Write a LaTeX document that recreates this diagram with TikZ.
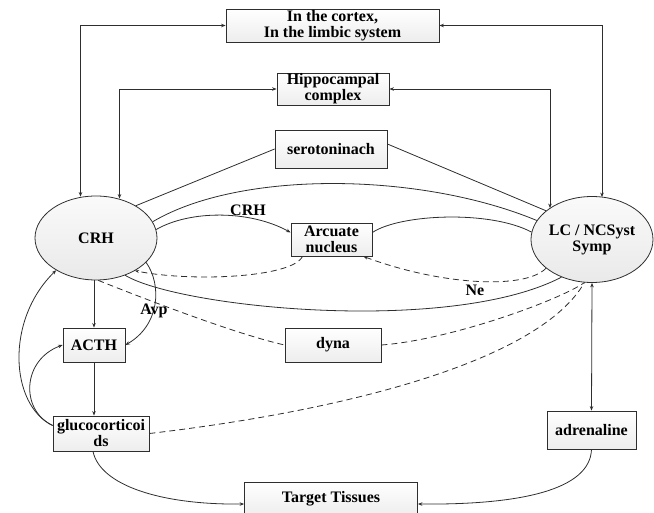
\documentclass[tikz,border=0pt]{standalone}
\usepackage{fontspec}
\setmainfont{Liberation Serif}
\usetikzlibrary{arrows.meta,shapes.geometric}
\definecolor{linec}{HTML}{2E2E2E}
\begin{document}
\begin{tikzpicture}[x=1pt,y=-1pt,
  every node/.style={font=\fontsize{16}{16}\selectfont\bfseries, text=black},
  box/.style={draw=linec, line width=0.8pt, top color=white, bottom color=gray!14, inner sep=0pt, align=center},
  oval/.style={ellipse, draw=linec, line width=0.8pt, top color=gray!4, bottom color=gray!17, inner sep=0pt, align=center},
  conn/.style={draw=linec, line width=0.8pt},
  arr/.style={conn, -{Stealth[length=4.5pt,width=3.5pt]}},
  biarr/.style={conn, {Stealth[length=4.5pt,width=3.5pt]}-{Stealth[length=4.5pt,width=3.5pt]}},
  dsh/.style={conn, dash pattern=on 6pt off 4pt},
  lbl/.style={inner sep=0pt}]
\useasboundingbox (0,0) rectangle (654,513);

% nodes
\node[box, minimum width=213pt, minimum height=33pt] (cortex) at (332.5,25.5) {In the cortex,\\In the limbic system};
\node[box, minimum width=112pt, minimum height=32pt] (hippo) at (333,89) {Hippocampal\\complex};
\node[box, minimum width=112pt, minimum height=38pt] (sero) at (331,149) {serotoninach};
\node[oval, minimum width=122pt, minimum height=84pt] (crh) at (96,238) {CRH};
\node[oval, minimum width=122pt, minimum height=86pt] (lc) at (592,239.5) {LC / NCSyst\\Symp};
\node[box, minimum width=81pt, minimum height=33pt] (arc) at (331.5,239.5) {Arcuate\\nucleus};
\node[box, minimum width=62pt, minimum height=34pt] (acth) at (94,345) {ACTH};
\node[box, minimum width=96pt, minimum height=34pt] (dyna) at (333,345) {dyna};
\node[box, minimum width=96pt, minimum height=35pt] (gluco) at (101,433.5) {glucocorticoi\\ds};
\node[box, minimum width=89pt, minimum height=38pt] (adren) at (591.5,430) {adrenaline};
\node[box, minimum width=173pt, minimum height=34pt] (target) at (331,499) {Target Tissues};

% bracket connectors
\draw[biarr] (cortex.west) -| ([xshift=-15.5pt,yshift=-1pt]crh.north);
\draw[biarr] (hippo.west) -| ([xshift=23.5pt,yshift=-3pt]crh.north);
\draw[biarr] (cortex.east) -| ([xshift=10pt,yshift=-1pt]lc.north);
\draw[biarr] (hippo.east) -| ([xshift=-42pt,yshift=-12pt]lc.north);

% serotonin lines
\draw[conn] (sero.west) -- (crh.39);
\draw[conn] ([yshift=5pt]sero.east) -- (lc.148);

% CRH - LC top curve
\draw[conn] (crh.16) .. controls (240,170) and (420,172) .. (lc.161);
% CRH -> Arcuate
\draw[arr] (crh.8) .. controls (190,210) and (250,210) .. ([yshift=7pt]arc.west);
\node[lbl] (lcrh) at (248,210) {CRH};
% Arcuate - LC
\draw[conn] ([yshift=7pt]arc.east) .. controls (400,214) and (490,210) .. (lc.173);
% Arcuate -> CRH dashed
\draw[dsh, -{Stealth[length=4pt,width=3pt]}] ([xshift=-29pt]arc.south) .. controls (292,278) and (190,282) .. (crh.-40);
% LC -> Arcuate dashed (Ne)
\draw[dsh, -{Stealth[length=4.5pt,width=3.5pt]}] (lc.212) .. controls (525,290) and (440,285) .. ([xshift=-9pt]arc.south east);
\node[lbl] (lne) at (475,290) {Ne};
% CRH - LC bottom curve
\draw[conn] (crh.-52) .. controls (180,308) and (450,335) .. (lc.-129);
% CRH - dyna dashed
\draw[dsh] (crh.-87) .. controls (160,305) and (240,335) .. (dyna.west);
% dyna -> LC dashed
\draw[dsh] (dyna.east) .. controls (450,340) and (560,300) .. (lc.-100);
% gluco -> LC dashed
\draw[dsh] (gluco.east) .. controls (350,410) and (540,360) .. (lc.-100);
% LC <-> adrenaline
\draw[biarr] (lc.south) -- (adren.north);

% CRH -> ACTH
\draw[arr] (acth.north |- crh.south) -- (acth.north);
% Avp
\draw[arr] (crh.-26) .. controls (162,285) and (160,325) .. (acth.east);
\node[lbl] (lavp) at (154,311) {Avp};
% ACTH -> gluco
\draw[arr] (acth.south) -- (acth.south |- gluco.north);
% gluco feedback
\draw[arr] ([yshift=8pt]gluco.west) .. controls (10,405) and (5,320) .. (crh.-141);
\draw[arr] ([yshift=8pt]gluco.west) .. controls (20,410) and (22,360) .. (acth.west);
% to target tissues
\draw[arr] ([xshift=-8pt]gluco.south) .. controls (100,485) and (160,505) .. ([yshift=-5pt]target.west);
\draw[arr] (adren.south) .. controls (590,490) and (520,505) .. ([yshift=-5pt]target.east);
\end{tikzpicture}
\end{document}
